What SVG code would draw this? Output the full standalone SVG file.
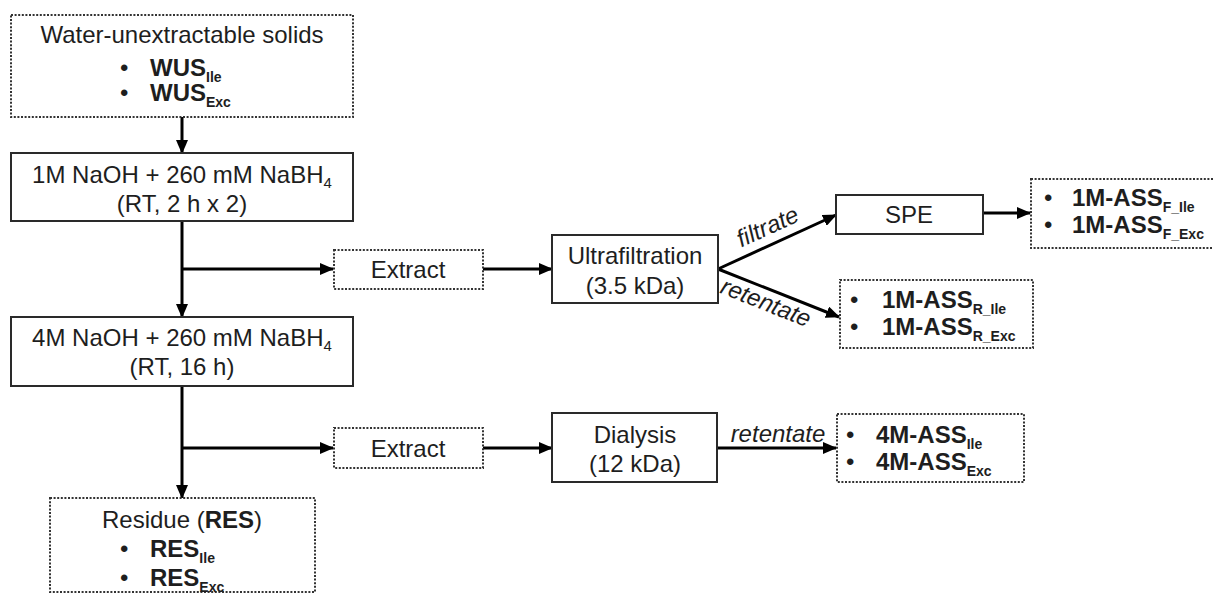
<svg xmlns="http://www.w3.org/2000/svg" width="1213" height="594" viewBox="0 0 1213 594">
<style>
text{font-family:"Liberation Sans",Arial,sans-serif;font-size:24px;fill:#1e1e1e}
.c{text-anchor:middle}
.b{font-weight:bold}
.i{font-style:italic}
.sub{font-size:14px;font-weight:bold}
.sub2{font-size:15px}
.solid{fill:#fff;stroke:#2a2a2a;stroke-width:2}
.dot{fill:#fff;stroke:#333;stroke-width:2;stroke-dasharray:2 1.6}
.ln{fill:none;stroke:#000;stroke-width:3}
</style>
<defs>
<marker id="ah" markerUnits="userSpaceOnUse" markerWidth="14" markerHeight="12" refX="13" refY="6" orient="auto">
<path d="M0,0 L14,6 L0,12 Z" fill="#000"/>
</marker>
</defs>
<rect width="1213" height="594" fill="#fff"/>
<g id="connectors">
<line class="ln" x1="182" y1="117" x2="182" y2="153" marker-end="url(#ah)"/>
<line class="ln" x1="182" y1="221" x2="182" y2="317" marker-end="url(#ah)"/>
<line class="ln" x1="182" y1="386" x2="182" y2="498" marker-end="url(#ah)"/>
<line class="ln" x1="182" y1="269" x2="333" y2="269" marker-end="url(#ah)"/>
<line class="ln" x1="182" y1="448" x2="333" y2="448" marker-end="url(#ah)"/>
<line class="ln" x1="483" y1="269" x2="552" y2="269" marker-end="url(#ah)"/>
<line class="ln" x1="483" y1="448" x2="552" y2="448" marker-end="url(#ah)"/>
<line class="ln" x1="718" y1="269" x2="836" y2="215" marker-end="url(#ah)"/>
<line class="ln" x1="718" y1="269" x2="839" y2="317" marker-end="url(#ah)"/>
<line class="ln" x1="983" y1="213" x2="1030" y2="213" marker-end="url(#ah)"/>
<line class="ln" x1="717" y1="448" x2="836" y2="448" marker-end="url(#ah)"/>
<text class="i c" transform="translate(771,234) rotate(-24.6)">filtrate</text>
<text class="i c" transform="translate(763,310) rotate(21.7)">retentate</text>
<text class="i c" x="778" y="442">retentate</text>
</g>
<g id="wus">
<rect class="dot" x="11" y="15" width="342" height="102"/>
<text class="c" x="182" y="43">Water-unextractable solids</text>
<text x="120" y="76">•</text>
<text class="b" x="150" y="76">WUS<tspan class="sub" dy="6">Ile</tspan></text>
<text x="120" y="101">•</text>
<text class="b" x="150" y="101">WUS<tspan class="sub" dy="6">Exc</tspan></text>
</g>
<g id="naoh1">
<rect class="solid" x="11" y="153" width="342" height="68"/>
<text class="c" x="182" y="183">1M NaOH + 260 mM NaBH<tspan class="sub2" dy="5">4</tspan></text>
<text class="c" x="182" y="212">(RT, 2 h x 2)</text>
</g>
<g id="naoh4">
<rect class="solid" x="11" y="317" width="342" height="69"/>
<text class="c" x="182" y="346">4M NaOH + 260 mM NaBH<tspan class="sub2" dy="5">4</tspan></text>
<text class="c" x="182" y="375">(RT, 16 h)</text>
</g>
<g id="res">
<rect class="dot" x="50" y="498" width="265" height="94"/>
<text class="c" x="182" y="528">Residue (<tspan class="b">RES</tspan>)</text>
<text x="120" y="557">•</text>
<text class="b" x="150" y="557">RES<tspan class="sub" dy="6">Ile</tspan></text>
<text x="120" y="586">•</text>
<text class="b" x="150" y="586">RES<tspan class="sub" dy="6">Exc</tspan></text>
</g>
<g id="extract1">
<rect class="dot" x="334" y="250" width="149" height="39"/>
<text class="c" x="408" y="278">Extract</text>
</g>
<g id="extract2">
<rect class="dot" x="334" y="428" width="149" height="40"/>
<text class="c" x="408" y="457">Extract</text>
</g>
<g id="ultra">
<rect class="solid" x="552" y="235" width="166" height="68"/>
<text class="c" x="635" y="264">Ultrafiltration</text>
<text class="c" x="635" y="294">(3.5 kDa)</text>
</g>
<g id="dialysis">
<rect class="solid" x="552" y="413" width="165" height="69"/>
<text class="c" x="635" y="443">Dialysis</text>
<text class="c" x="635" y="472">(12 kDa)</text>
</g>
<g id="spe">
<rect class="solid" x="836" y="195" width="147" height="39"/>
<text class="c" x="909" y="223">SPE</text>
</g>
<g id="ass1f">
<rect class="dot" x="1031" y="179" width="200" height="69"/>
<text x="1044" y="206">•</text>
<text class="b" x="1072" y="206">1M-ASS<tspan class="sub" dy="6">F_Ile</tspan></text>
<text x="1044" y="233">•</text>
<text class="b" x="1072" y="233">1M-ASS<tspan class="sub" dy="6">F_Exc</tspan></text>
</g>
<g id="ass1r">
<rect class="dot" x="840" y="280" width="193" height="68"/>
<text x="850" y="308">•</text>
<text class="b" x="882" y="308">1M-ASS<tspan class="sub" dy="6">R_Ile</tspan></text>
<text x="850" y="335">•</text>
<text class="b" x="882" y="335">1M-ASS<tspan class="sub" dy="6">R_Exc</tspan></text>
</g>
<g id="ass4">
<rect class="dot" x="837" y="414" width="187" height="68"/>
<text x="846" y="443">•</text>
<text class="b" x="876" y="443">4M-ASS<tspan class="sub" dy="6">Ile</tspan></text>
<text x="846" y="470">•</text>
<text class="b" x="876" y="470">4M-ASS<tspan class="sub" dy="6">Exc</tspan></text>
</g>
</svg>
